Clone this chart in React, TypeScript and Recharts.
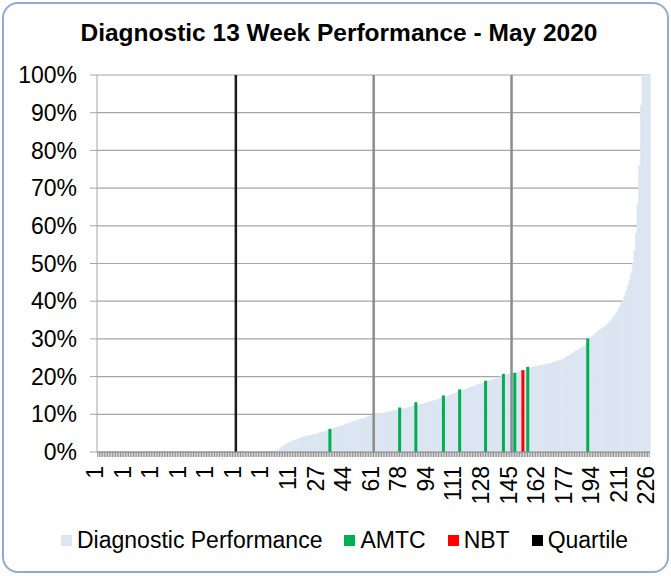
import React from 'react';
import { ComposedChart, Bar, Cell, XAxis, YAxis, CartesianGrid } from 'recharts';

// sorted performance (%) per provider, left to right
const performance = [
  0, 0, 0, 0, 0, 0, 0, 0, 0, 0, 0, 0, 0, 0, 0, 0, 0, 0, 0, 0,
  0, 0, 0, 0, 0, 0, 0, 0, 0, 0, 0, 0, 0, 0, 0, 0, 0, 0, 0, 0,
  0, 0, 0, 0, 0, 0, 0, 0, 0, 0, 0, 0, 0, 0, 0, 0, 0, 0, 0, 0,
  0, 0, 0, 0, 0, 0, 0, 0, 0, 0, 0, 0, 0, 0, 0, 0, 0, 0, 0, 0,
  0, 0, 0, 0, 0, 0, 0, 0, 0, 0, 0, 0, 0, 0, 0, 0, 0, 0, 0, 0,
  0, 0, 0, 0, 0, 0, 0, 0, 0, 0, 0,
  0.5, 0.8, 1.1, 1.4, 1.7, 2.0, 2.2, 2.5, 2.7, 2.9,
  3.0, 3.2, 3.3, 3.5, 3.7, 3.9, 4.0, 4.1, 4.2, 4.3,
  4.4, 4.5, 4.6, 4.7, 4.8, 5.0, 5.1, 5.2, 5.3, 5.4,
  5.5, 5.6, 5.8, 6.0, 6.2, 6.4, 6.5, 6.7, 6.8, 6.9,
  7.0, 7.2, 7.4, 7.5, 7.7, 7.8, 8.0, 8.1, 8.3, 8.4,
  8.6, 8.7, 8.8, 9.0, 9.1, 9.3, 9.4, 9.5, 9.7, 9.8,
  9.9, 10.0, 10.1, 10.2, 10.3, 10.3, 10.4, 10.5, 10.6, 10.7,
  10.8, 10.9, 11.0, 11.0, 11.1, 11.2, 11.3, 11.4, 11.5, 11.6,
  11.7, 11.9, 12.0, 12.1, 12.2, 12.3, 12.4, 12.5, 12.6, 12.7,
  12.8, 13.0, 13.1, 13.2, 13.3, 13.4, 13.6, 13.7, 13.8, 14.0,
  14.1, 14.3, 14.4, 14.6, 14.7, 14.9, 15.0, 15.2, 15.3, 15.5,
  15.7, 15.9, 16.1, 16.2, 16.4, 16.5, 16.7, 16.9, 17.0, 17.2,
  17.3, 17.5, 17.6, 17.8, 17.9, 18.0, 18.2, 18.3, 18.5, 18.6,
  18.8, 18.9, 19.1, 19.2, 19.4, 19.6, 19.7, 19.9, 20.1, 20.2,
  20.3, 20.5, 20.6, 20.7, 20.8, 20.9, 21.0, 21.1, 21.2, 21.3,
  21.5, 21.6, 21.7, 21.8, 22.0, 22.2, 22.3, 22.5, 22.6, 22.7,
  22.8, 22.9, 23.0, 23.0, 23.1, 23.2, 23.3, 23.4, 23.5, 23.6,
  23.8, 23.9, 24.0, 24.2, 24.3, 24.5, 24.7, 24.9, 25.2, 25.5,
  25.7, 26.0, 26.3, 26.6, 26.8, 27.0, 27.3, 27.6, 27.8, 28.1,
  28.5, 29.0, 29.6, 30.2, 30.7, 31.1, 31.5, 31.8, 32.2, 32.5,
  32.8, 33.1, 33.4, 33.8, 34.2, 34.7, 35.2, 35.8, 36.3, 37.0,
  37.8, 38.6, 39.5, 40.3, 41.5, 42.8, 44.2, 45.6, 47.5, 50.0,
  53.5, 58.0, 66.0, 76.0, 92.0, 100, 100, 100, 100, 100,
];

const amtcIndex = [143, 186, 196, 213, 223, 239, 250, 257, 265, 302];
const amtcValues = [6.1, 11.8, 13.2, 15.0, 16.6, 18.9, 20.7, 21.0, 22.6, 30.1];

const nbtIndex = [262];
const nbtValues = [21.7];

const quartileIndex = [85, 170, 255];
const quartileColors = ['#1a1a1a', '#8c8c8c', '#8c8c8c'];

const tickLabels = [
  '1', '1', '1', '1', '1', '1', '1', '11', '27', '44', '61',
  '78', '94', '111', '128', '145', '162', '177', '194', '211', '226',
];
const labelStep = 17;

const yTicks = [0, 10, 20, 30, 40, 50, 60, 70, 80, 90, 100];

const legendItems = [
  { name: 'Diagnostic Performance', color: '#dce6f2' },
  { name: 'AMTC', color: '#00b050' },
  { name: 'NBT', color: '#ff0000' },
  { name: 'Quartile', color: '#000000' },
];

const data = performance.map((v, i) => {
  const a = amtcIndex.indexOf(i);
  const n = nbtIndex.indexOf(i);
  const q = quartileIndex.indexOf(i);
  return {
    idx: i,
    perf: v,
    amtc: a >= 0 ? amtcValues[a] : null,
    nbt: n >= 0 ? nbtValues[n] : null,
    quartile: q >= 0 ? 100 : null,
  };
});

const FONT = '"Liberation Sans", Arial, sans-serif';

const XTick = (props: any) => {
  const { x, y, payload } = props;
  const v = payload.value as number;
  if (v % labelStep !== 0) return <g />;
  const label = tickLabels[v / labelStep];
  const tx = x - 3;
  const ty = y + 7;
  return (
    <text
      x={tx}
      y={ty}
      dy="0.36em"
      transform={`rotate(-90 ${tx} ${ty})`}
      textAnchor="end"
      fill="#000"
      fontSize={23}
      fontFamily={FONT}
    >
      {label}
    </text>
  );
};

// fixed-width marker bars, centred on their category
const thinBar = (w: number) => (props: any) => {
  const { x, y, width, height, fill } = props;
  if (!height || height <= 0) return <g />;
  return <rect x={x + width / 2 - w / 2} y={y} width={w} height={height} fill={fill} />;
};

export default function App() {
  return (
    <div style={{ position: 'absolute', left: 0, top: 0, width: 671, height: 576, background: '#fff', fontFamily: FONT }}>
      <div
        style={{
          position: 'absolute',
          left: 2,
          top: 2,
          width: 663,
          height: 567,
          border: '2.5px solid #8eaad8',
          borderRadius: 16,
        }}
      />
      <div
        style={{
          position: 'absolute',
          left: 0,
          top: 19,
          width: 678,
          textAlign: 'center',
          fontSize: 24.5,
          fontWeight: 'bold',
          color: '#000',
        }}
      >
        Diagnostic 13 Week Performance - May 2020
      </div>
      <div style={{ position: 'absolute', left: 0, top: 0 }}>
        <ComposedChart
          width={671}
          height={576}
          data={data}
          barCategoryGap={0}
          barGap={0}
          margin={{ top: 75, right: 21, left: 0, bottom: 64 }}
        >
          <CartesianGrid vertical={false} stroke="#a6a6a6" strokeWidth={1.2} />
          <XAxis
            dataKey="idx"
            interval={0}
            tick={<XTick />}
            tickSize={5}
            tickLine={{ stroke: '#8c8c8c' }}
            axisLine={{ stroke: '#8c8c8c' }}
            height={60}
          />
          <XAxis xAxisId="amtc" dataKey="idx" hide />
          <XAxis xAxisId="nbt" dataKey="idx" hide />
          <XAxis xAxisId="quartile" dataKey="idx" hide />
          <YAxis
            domain={[0, 100]}
            ticks={yTicks}
            tickFormatter={(v: number) => `${v}%`}
            width={97}
            tickSize={7}
            tickMargin={13}
            tickLine={{ stroke: '#a6a6a6' }}
            axisLine={{ stroke: '#a6a6a6' }}
            tick={{ fill: '#000', fontSize: 23, fontFamily: FONT }}
            interval={0}
          />
          <Bar dataKey="perf" fill="#dce6f2" stroke="#dce6f2" strokeWidth={0.6} isAnimationActive={false} />
          <Bar dataKey="amtc" xAxisId="amtc" fill="#00b050" shape={thinBar(3)} isAnimationActive={false} />
          <Bar dataKey="nbt" xAxisId="nbt" fill="#ff0000" shape={thinBar(3)} isAnimationActive={false} />
          <Bar dataKey="quartile" xAxisId="quartile" shape={thinBar(2.5)} isAnimationActive={false}>
            {data.map((d, i) => {
              const q = quartileIndex.indexOf(i);
              return <Cell key={i} fill={q >= 0 ? quartileColors[q] : '#000'} />;
            })}
          </Bar>
        </ComposedChart>
      </div>
      <div
        style={{
          position: 'absolute',
          left: 61,
          top: 527,
          display: 'flex',
          alignItems: 'center',
          fontSize: 23,
          color: '#000',
        }}
      >
        {legendItems.map((item) => (
          <div key={item.name} style={{ display: 'flex', alignItems: 'center', marginRight: 22 }}>
            <span style={{ display: 'inline-block', width: 11, height: 11, background: item.color, marginRight: 5 }} />
            <span>{item.name}</span>
          </div>
        ))}
      </div>
    </div>
  );
}
